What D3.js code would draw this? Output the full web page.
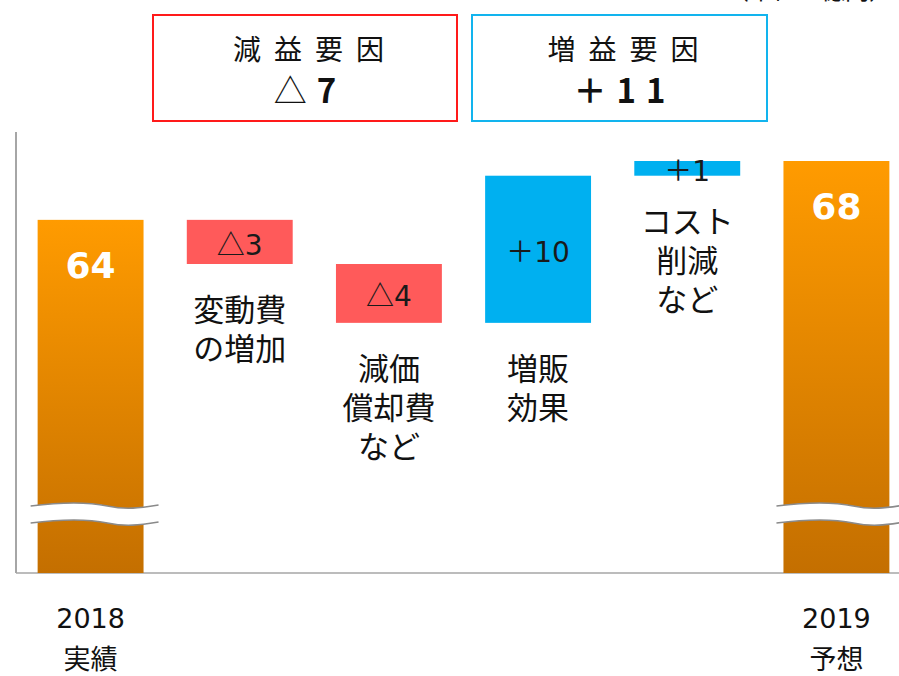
<!DOCTYPE html>
<html>
<head>
<meta charset="utf-8">
<script src="https://cdn.jsdelivr.net/npm/d3@7"></script>
<style>
  body { margin: 0; background: #fff; }
  svg { display: block; font-family: "Noto Sans CJK JP", "DejaVu Sans", sans-serif; }
</style>
</head>
<body>
<svg class="bridge"></svg>
<script>
// Chart size matches the browser window
const width = 899;
const height = 676;

// Waterfall data (unit: 億円)
const steps = ["2018", "変動費", "減価償却費", "増販", "コスト削減", "2019"];
const amounts = [64, -3, -4, 10, 1, 68];
const kinds = ["total", "down", "down", "up", "up", "total"];
const valueSigns = ["", "△", "△", "＋", "＋", ""];
const valueLabels = ["64", "3", "4", "10", "1", "68"];
const noteLines = [[], ["変動費", "の増加"], ["減価", "償却費", "など"], ["増販", "効果"], ["コスト", "削減", "など"], []];
const yearLabels = ["2018", "", "", "", "", "2019"];
const periodLabels = ["実績", "", "", "", "", "予想"];

// Summary boxes above the chart
const summaryTitles = ["減益要因", "増益要因"];
const summarySigns = ["△", "＋"];
const summaryValues = ["7", "11"];

const svg = d3.select(".bridge")
    .attr("width", width)
    .attr("height", height);

// Scales: the value axis is broken, so it starts at 40 instead of 0
const x = d3.scaleBand()
    .domain(d3.range(steps.length))
    .range([16, 911])
    .paddingInner(0.29)
    .paddingOuter(0.145);

const y = d3.scaleLinear()
    .domain([40, 68])
    .range([573, 161]);

// Work out the start/end of each floating bar
let running = 0;
const bars = amounts.map((v, i) => {
    let lo, hi;
    if (kinds[i] === "total") {
        lo = 40; hi = v; running = v;
    } else {
        const next = running + v;
        lo = Math.min(running, next); hi = Math.max(running, next);
        running = next;
    }
    return { i, lo, hi, kind: kinds[i] };
});

// Orange gradient for the total bars
const defs = svg.append("defs");
const grad = defs.append("linearGradient")
    .attr("id", "totalFill")
    .attr("x1", 0).attr("y1", 0).attr("x2", 0).attr("y2", 1);
grad.append("stop").attr("offset", "0%").attr("stop-color", "#ff9b00");
grad.append("stop").attr("offset", "100%").attr("stop-color", "#c46f00");

const fills = { total: "url(#totalFill)", down: "#ff5a5a", up: "#00b0f0" };

// Axis lines
svg.append("line")
    .attr("x1", 16).attr("x2", 16)
    .attr("y1", 132).attr("y2", y(40))
    .attr("stroke", "#a6a6a6").attr("stroke-width", 2);

svg.append("line")
    .attr("x1", 16).attr("x2", width)
    .attr("y1", y(40)).attr("y2", y(40))
    .attr("stroke", "#a6a6a6").attr("stroke-width", 1.5);

// Bars
svg.selectAll("rect.bar")
    .data(bars)
    .enter()
    .append("rect")
    .attr("class", "bar")
    .attr("x", d => x(d.i))
    .attr("width", x.bandwidth())
    .attr("y", d => y(d.hi))
    .attr("height", d => y(d.lo) - y(d.hi))
    .attr("fill", d => fills[d.kind]);

// Break marks across the total bars (white band edged by two wavy lines)
const wave = (x0, x1, yy) => {
    const w = x1 - x0;
    return `M${x0},${yy} C${x0 + w * 0.25},${yy - 4} ${x0 + w * 0.45},${yy - 4} ${x0 + w * 0.6},${yy}` +
           ` S${x0 + w * 0.85},${yy + 2} ${x1},${yy - 1}`;
};
bars.filter(d => d.kind === "total").forEach(d => {
    const x0 = x(d.i) - 7, x1 = x(d.i) + x.bandwidth() + 15;
    const g = svg.append("g").attr("fill", "none");
    g.append("path").attr("d", wave(x0, x1, 514.5)).attr("stroke", "#fff").attr("stroke-width", 17);
    g.append("path").attr("d", wave(x0, x1, 506)).attr("stroke", "#8a8a8a").attr("stroke-width", 1.6);
    g.append("path").attr("d", wave(x0, x1, 523)).attr("stroke", "#8a8a8a").attr("stroke-width", 1.6);
});

// Value labels inside the bars
const values = svg.selectAll("text.value")
    .data(bars)
    .enter()
    .append("text")
    .attr("class", "value")
    .attr("x", d => x(d.i) + x.bandwidth() / 2)
    .attr("y", d => d.kind === "total" ? y(d.hi) + 58 : (y(d.hi) + y(d.lo)) / 2 + 13)
    .attr("text-anchor", "middle")
    .attr("font-family", "'DejaVu Sans', sans-serif")
    .attr("font-weight", d => d.kind === "total" ? "bold" : "normal")
    .attr("font-size", d => d.kind === "total" ? 36 : 28)
    .attr("fill", d => d.kind === "total" ? "#fff" : "#1a1a1a");
values.append("tspan")
    .attr("font-family", "'Noto Sans CJK JP', sans-serif")
    .text(d => valueSigns[d.i]);
values.append("tspan")
    .text(d => valueLabels[d.i]);

// Notes under the floating bars
bars.forEach(d => {
    const lines = noteLines[d.i];
    if (!lines.length) return;
    svg.append("text")
        .attr("x", x(d.i) + x.bandwidth() / 2)
        .attr("y", y(d.lo) + 57)
        .attr("text-anchor", "middle")
        .attr("font-size", 31)
        .attr("fill", "#111")
        .selectAll("tspan")
        .data(lines)
        .enter()
        .append("tspan")
        .attr("x", x(d.i) + x.bandwidth() / 2)
        .attr("dy", (t, k) => k === 0 ? 0 : 39)
        .text(t => t);
});

// Category labels under the axis
svg.selectAll("text.year")
    .data(bars.filter(d => yearLabels[d.i]))
    .enter()
    .append("text")
    .attr("class", "year")
    .attr("x", d => x(d.i) + x.bandwidth() / 2)
    .attr("y", 628)
    .attr("text-anchor", "middle")
    .attr("font-family", "'DejaVu Sans', sans-serif")
    .attr("font-size", 27)
    .attr("fill", "#111")
    .text(d => yearLabels[d.i]);

svg.selectAll("text.period")
    .data(bars.filter(d => periodLabels[d.i]))
    .enter()
    .append("text")
    .attr("class", "period")
    .attr("x", d => x(d.i) + x.bandwidth() / 2)
    .attr("y", 669)
    .attr("text-anchor", "middle")
    .attr("font-size", 27)
    .attr("fill", "#111")
    .text(d => periodLabels[d.i]);

// Summary boxes
const boxes = [
    { x: 153, w: 304, stroke: "#ff1a1a" },
    { x: 472, w: 295, stroke: "#12b4ee" }
];
boxes.forEach((b, k) => {
    const cx = b.x + b.w / 2;
    svg.append("rect")
        .attr("x", b.x).attr("y", 15)
        .attr("width", b.w).attr("height", 106)
        .attr("fill", "none")
        .attr("stroke", b.stroke)
        .attr("stroke-width", 2);
    svg.append("text")
        .attr("x", cx + 10)
        .attr("y", 60)
        .attr("text-anchor", "middle")
        .attr("font-size", 28)
        .attr("letter-spacing", 13)
        .attr("fill", "#111")
        .text(summaryTitles[k]);
    const val = svg.append("text")
        .attr("x", cx + 5)
        .attr("y", 103)
        .attr("text-anchor", "middle")
        .attr("font-size", 33)
        .attr("fill", "#111");
    val.append("tspan")
        .attr("font-weight", k === 0 ? "normal" : "bold")
        .attr("letter-spacing", 10)
        .text(summarySigns[k]);
    val.append("tspan")
        .attr("font-weight", "bold")
        .attr("letter-spacing", 10)
        .text(summaryValues[k]);
});

// Unit note, mostly cut off at the top edge
svg.append("text")
    .attr("x", 893)
    .attr("y", -1)
    .attr("text-anchor", "end")
    .attr("font-size", 24)
    .attr("fill", "#111")
    .text("（単位：億円）");
</script>
</body>
</html>
